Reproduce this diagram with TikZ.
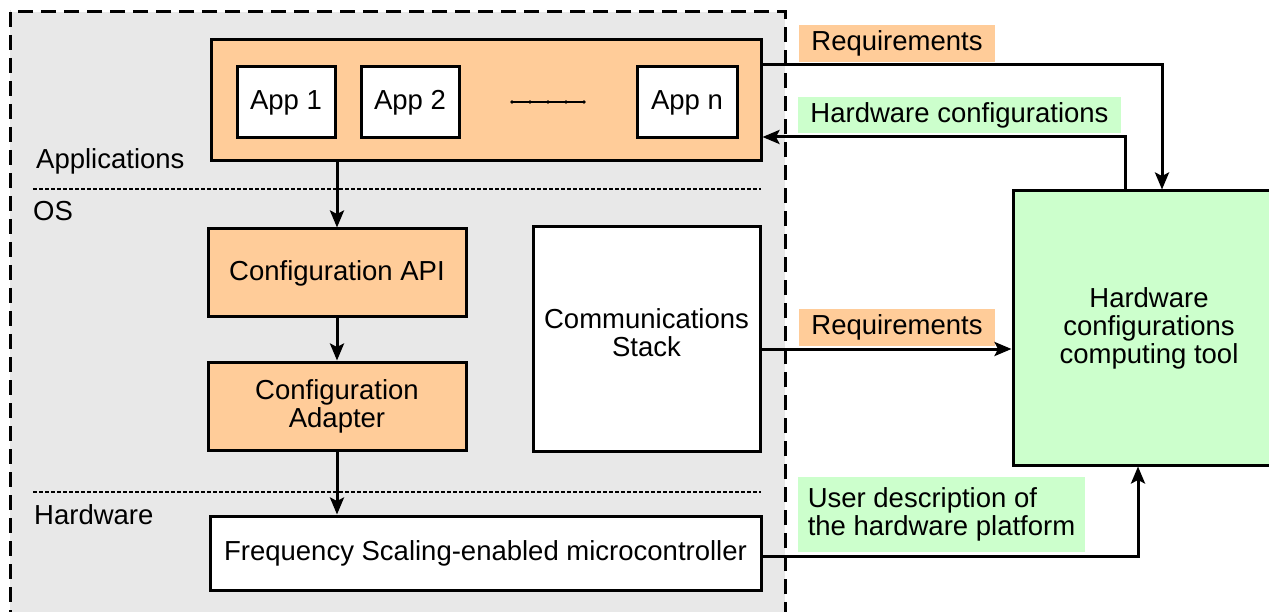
\documentclass[tikz,border=0pt]{standalone}
\usepackage{fontspec}
\setmainfont{Liberation Sans}
\usetikzlibrary{arrows.meta}
\definecolor{grayfill}{HTML}{E8E8E8}
\definecolor{orangefill}{HTML}{FFCC99}
\definecolor{greenfill}{HTML}{CCFFCC}
\begin{document}
\begin{tikzpicture}[x=1pt,y=-1pt,
  font=\fontsize{27.5}{28}\selectfont,
  box/.style={draw, line width=3pt, inner sep=0pt, align=center},
  lbl/.style={inner sep=0pt, align=center},
  plain/.style={inner sep=0pt, anchor=base west},
  sep/.style={line width=1.8pt, dash pattern=on 4pt off 2pt},
  arr/.style={line width=3pt, -{Stealth[length=17pt,width=14pt,inset=3.5pt]}}]
\useasboundingbox (0,0) rectangle (1269,612);
\clip (0,0) rectangle (1269,612);
% outer dashed container
\draw[line width=3pt, dash pattern=on 15pt off 8pt, fill=grayfill] (10,12) rectangle (785,640);
% applications
\node[box, fill=orangefill, minimum width=550, minimum height=121] (apps) at (486,100.5) {};
\node[box, fill=white, minimum width=98, minimum height=71] (app1) at (286,102.5) {App 1};
\node[box, fill=white, minimum width=98, minimum height=71] (app2) at (410,102.5) {App 2};
\node[box, fill=white, minimum width=100, minimum height=71] (appn) at (687,102.5) {App n};
\draw[line width=1.2pt] (512,102) -- (584,102);
\foreach \xx in {512,530,548,566,584} \fill (\xx,102) circle (1.8);
% layer labels
\node[plain] (lapps) at (36,169) {Applications};
\node[plain] (los) at (33,221) {OS};
\node[plain] (lhw) at (34,524) {Hardware};
\draw[sep] (33,189) -- (761,189);
\draw[sep] (33,492) -- (761,492);
% OS boxes
\node[box, fill=orangefill, minimum width=258, minimum height=88] (api) at (337,273) {Configuration API};
\node[box, fill=orangefill, minimum width=258, minimum height=88] (adapter) at (337,406) {Configuration\\Adapter};
\node[box, fill=white, minimum width=227, minimum height=224] (comm) at (646.5,339) {};
\node[lbl] (commtxt) at ([yshift=6pt]comm.center) {Communications\\Stack};
% hardware
\node[box, fill=white, minimum width=551, minimum height=74] (freq) at (485.5,553) {Frequency Scaling-enabled microcontroller};
% tool
\node[box, fill=greenfill, minimum width=272, minimum height=274] (tool) at (1149,328) {Hardware\\configurations\\computing tool};
% labels on connectors
\node[lbl, fill=orangefill, minimum width=196, minimum height=37] (req1) at (897,43.5) {Requirements};
\node[lbl, fill=greenfill, minimum width=323, minimum height=36] (hwc) at (959.5,115) {Hardware configurations};
\node[lbl, fill=orangefill, minimum width=196, minimum height=37] (req2) at (897,327.5) {Requirements};
\node[lbl, fill=greenfill, minimum width=287, minimum height=75, align=left] (user) at (941.5,514.5) {User description of\\the hardware platform};
% internal arrows
\draw[arr] (api.north |- apps.south) -- (api.north);
\draw[arr] (api.south) -- (adapter.north);
\draw[arr] (adapter.south) -- (adapter.south |- freq.north);
% external arrows
\coordinate (r1) at (1162,65);
\coordinate (h1) at (1125,137);
\coordinate (r2) at (900,349);
\coordinate (u1) at (1138,556);
\draw[arr] (apps.east |- r1) -- (r1) -- (r1 |- tool.north);
\draw[arr] (h1 |- tool.north) -- (h1) -- (apps.east |- h1);
\draw[arr] (comm.east |- r2) -- (tool.west |- r2);
\draw[arr] (freq.east |- u1) -- (u1) -- (u1 |- tool.south);
\end{tikzpicture}
\end{document}
